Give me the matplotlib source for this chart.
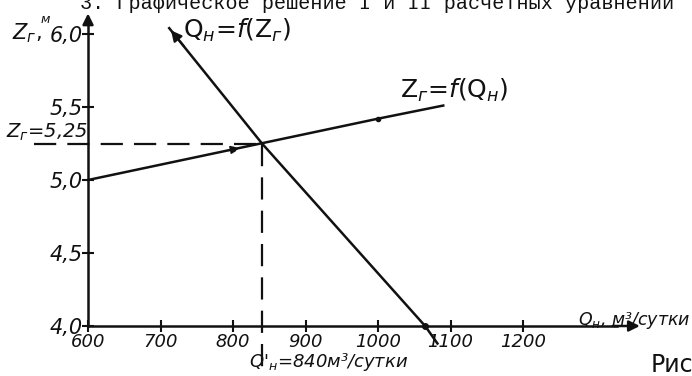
import matplotlib
matplotlib.use('Agg')
import matplotlib.pyplot as plt

# data
x_ticks = [600, 700, 800, 900, 1000, 1100, 1200]
x_tick_labels = ['600', '700', '800', '900', '1000', '1100', '1200']
y_ticks = [4.0, 4.5, 5.0, 5.5, 6.0]
y_tick_labels = ['4,0', '4,5', '5,0', '5,5', '6,0']

# Zг = f(Qн)
zr_q = [600, 800, 1000, 1090]
zr_z = [5.0, 5.21, 5.42, 5.51]
zr_dots_q = [800, 1000]
zr_dots_z = [5.21, 5.42]

# Qн = f(Zг)
qn_q = [712, 840, 1065, 1082]
qn_z = [6.04, 5.25, 4.0, 3.88]

q_sol = 840
z_sol = 5.25

ink = '#111111'

fig = plt.figure(figsize=(6.92, 3.76), dpi=100)
ax = fig.add_axes([0, 0, 1, 1])
ax.set_xlim(478.6, 1433.1)
ax.set_ylim(3.6575, 6.2329)

for s in ['top', 'right']:
    ax.spines[s].set_visible(False)
ax.spines['left'].set_position(('data', 600))
ax.spines['bottom'].set_position(('data', 4.0))
ax.spines['left'].set_bounds(4.0, 6.1)
ax.spines['bottom'].set_bounds(600, 1330)
for s in ['left', 'bottom']:
    ax.spines[s].set_linewidth(1.8)
    ax.spines[s].set_color(ink)

ax.set_xticks(x_ticks)
ax.set_xticklabels(x_tick_labels, fontsize=13, style='italic', color=ink)
ax.set_yticks(y_ticks)
ax.set_yticklabels(y_tick_labels, fontsize=15, style='italic', color=ink)
ax.tick_params(axis='x', direction='inout', length=8, width=1.5, pad=1, colors=ink)
ax.tick_params(axis='y', direction='inout', length=8, width=1.5, pad=0, colors=ink)

# axis arrows
ax.annotate('', xy=(600, 6.16), xytext=(600, 6.05),
            arrowprops=dict(arrowstyle='-|>', color=ink, lw=1.8, mutation_scale=16))
ax.annotate('', xy=(1365, 4.0), xytext=(1320, 4.0),
            arrowprops=dict(arrowstyle='-|>', color=ink, lw=1.8, mutation_scale=16))

# curves
ax.plot(zr_q, zr_z, color=ink, lw=1.8)
ax.plot(zr_dots_q, zr_dots_z, 'o', color=ink, ms=3)
ax.annotate('', xy=(812, 5.222), xytext=(790, 5.199),
            arrowprops=dict(arrowstyle='-|>', color=ink, lw=1.2, mutation_scale=12))
ax.plot(qn_q, qn_z, color=ink, lw=1.8)
ax.plot([1065], [4.0], 'o', color=ink, ms=4)
ax.annotate('', xy=(qn_q[0], qn_z[0]), xytext=(735, 5.9),
            arrowprops=dict(arrowstyle='-|>', color=ink, lw=1.5, mutation_scale=16))

# solution guide lines
ax.plot([525, q_sol], [z_sol, z_sol], color=ink, lw=1.6, dashes=(10, 5))
ax.plot([q_sol, q_sol], [z_sol, 3.72], color=ink, lw=1.6, dashes=(10, 5))

# labels
ax.text(0.116, 0.976, '3. Графическое решение I и II расчетных уравнений',
        transform=ax.transAxes, family='Liberation Mono', fontsize=14.5,
        color=ink, va='baseline', ha='left')
ax.text(0.018, 0.895, r'$Z_г$,', transform=ax.transAxes, fontsize=15, color=ink)
ax.text(0.058, 0.94, 'м', transform=ax.transAxes, fontsize=9, style='italic', color=ink)
ax.text(0.008, 0.635, r'$Z_г$=5,25', transform=ax.transAxes, fontsize=14,
        style='italic', color=ink)
ax.text(0.265, 0.9, r'Q$_н$=$f$(Z$_г$)', transform=ax.transAxes, fontsize=18, color=ink)
ax.text(0.578, 0.74, r'Z$_г$=$f$(Q$_н$)', transform=ax.transAxes, fontsize=18, color=ink)
ax.text(0.36, 0.025, r"Q'$_н$=840м³/сутки", transform=ax.transAxes, fontsize=13,
        style='italic', color=ink)
ax.text(0.835, 0.135, r'Q$_н$, м³/сутки', transform=ax.transAxes, fontsize=12.5,
        style='italic', color=ink)
ax.text(0.94, 0.01, 'Рис', transform=ax.transAxes, fontsize=17, color=ink)

fig.savefig('out.png', dpi=100)
